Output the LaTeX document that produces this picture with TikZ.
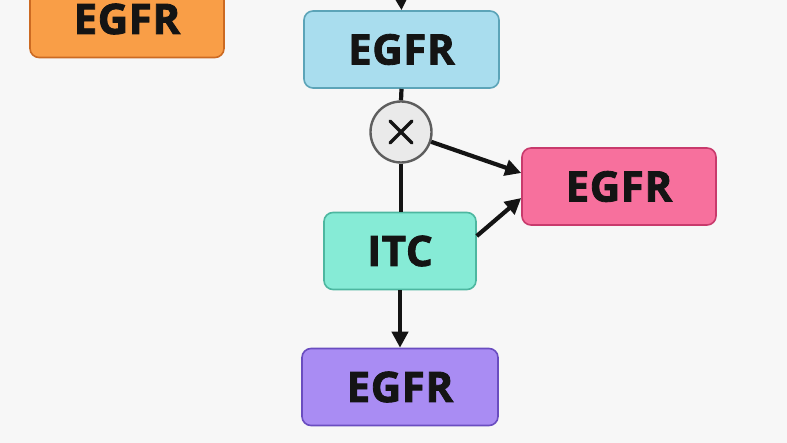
\documentclass[tikz,border=0pt]{standalone}
\usepackage{fontspec}
\setmainfont{Open Sans}[LetterSpace=1.5, BoldFeatures={FakeBold=2}]
\usetikzlibrary{arrows.meta,positioning,calc}
\definecolor{bg}{HTML}{F7F7F7}
\definecolor{bluef}{HTML}{A9DDEE}
\definecolor{blued}{HTML}{5CA4B8}
\definecolor{pinkf}{HTML}{F7709D}
\definecolor{pinkd}{HTML}{C83A6C}
\definecolor{tealf}{HTML}{86EBD6}
\definecolor{teald}{HTML}{4DB7A0}
\definecolor{purpf}{HTML}{A98CF3}
\definecolor{purpd}{HTML}{6A4DC0}
\definecolor{orangef}{HTML}{F99E47}
\definecolor{oranged}{HTML}{CC6A22}
\definecolor{circf}{HTML}{EAEAEA}
\definecolor{circd}{HTML}{5E5E5E}
\definecolor{ink}{HTML}{141414}
\tikzset{
  box/.style={draw, rounded corners=9pt, line width=1.6pt, minimum height=77pt,
    text=ink, font=\fontsize{42}{44}\selectfont\bfseries, inner sep=0pt,
    text height=30pt, text depth=0pt},
  conn/.style={draw=ink, line width=4.2pt},
  arr/.style={conn, -{Stealth[length=16pt,width=16pt,inset=0pt]}},
}
\begin{document}
\begin{tikzpicture}[x=1pt,y=1pt]
\useasboundingbox[fill=bg] (0,0) rectangle (787,-443);
\node[box, fill=orangef, draw=oranged, minimum width=194pt] (orange) at (127,-19) {EGFR};
\node[box, fill=bluef, draw=blued, minimum width=195pt] (blue) at (401.5,-49.5) {EGFR};
\node[circle, draw=circd, fill=circf, line width=2.4pt, minimum size=61pt, inner sep=0pt] (mult) at (401,-132) {};
\draw[ink, line width=3.4pt, line cap=round] ($(mult)+(-11,11)$) -- ($(mult)+(11,-11)$) ($(mult)+(-11,-11)$) -- ($(mult)+(11,11)$);
\node[box, fill=pinkf, draw=pinkd, minimum width=194pt] (pink) at (619,-186.5) {EGFR};
\node[box, fill=tealf, draw=teald, minimum width=152pt] (itc) at (400,-251) {ITC};
\node[box, fill=purpf, draw=purpd, minimum width=196pt] (purple) at (400,-387) {EGFR};
\coordinate (topin) at (401,2);
\draw[arr] (topin) -- (blue.north);
\draw[conn] (blue.south) -- (mult.north);
\draw[conn] (mult.south) -- (itc.north -| mult.south);
\draw[arr] (mult.-18) -- (pink.west |- 0,-173);
\draw[arr] (itc.east |- 0,-236) -- (pink.west |- 0,-198);
\draw[arr] (itc.south) -- (purple.north);
\end{tikzpicture}
\end{document}
